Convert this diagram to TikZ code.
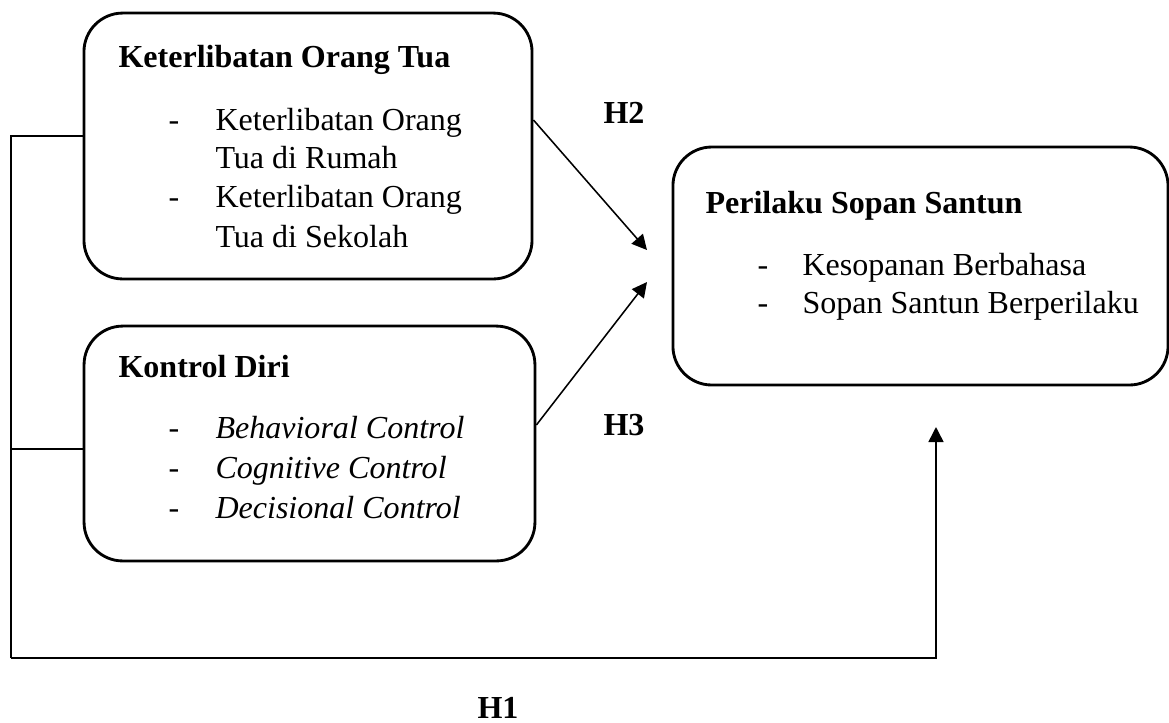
\documentclass[12pt,tikz,border=0pt]{standalone}
\usepackage{fontspec}
\setmainfont{Liberation Serif}
\usetikzlibrary{arrows.meta}
\usetikzlibrary{calc}

\newcommand{\diafont}{\fontsize{12.4}{15}\selectfont}

\begin{document}
\begin{tikzpicture}[x=0.387pt, y=-0.387pt,
        box/.style={draw, line width=1.1pt, rounded corners=15pt, inner sep=0pt},
        title/.style={anchor=base west, inner sep=0pt, font=\diafont\bfseries},
        item/.style={anchor=base west, inner sep=0pt, font=\diafont},
        link/.style={line width=0.6pt},
        arr/.style={line width=0.6pt, -{Triangle[length=5.8pt, width=5.8pt]}}]
        \useasboundingbox (0,0) rectangle (1169,722);

        % boxes
        \node[box, minimum width=173.4pt, minimum height=102.9pt] (ket) at (308,146) {};
        \node[box, minimum width=174.5pt, minimum height=90.9pt] (kon) at (309.5,443.5) {};
        \node[box, minimum width=191.6pt, minimum height=92.1pt] (pss) at (920.5,266) {};

        % Keterlibatan Orang Tua
        \node[title] (kettitle) at (118,67) {Keterlibatan Orang Tua};
        \node[item] (ketdasha) at (168,130) {-};
        \node[item] (ketitema) at (215,130) {Keterlibatan Orang};
        \node[item] (ketitemaa) at (215,168) {Tua di Rumah};
        \node[item] (ketdashb) at (168,207) {-};
        \node[item] (ketitemb) at (215,207) {Keterlibatan Orang};
        \node[item] (ketitembb) at (215,247) {Tua di Sekolah};

        % Kontrol Diri
        \node[title] (kontitle) at (118,377) {Kontrol Diri};
        \node[item] (kondasha) at (168,438) {-};
        \node[item] (konitema) at (215,438) {\textit{Behavioral Control}};
        \node[item] (kondashb) at (168,478) {-};
        \node[item] (konitemb) at (215,478) {\textit{Cognitive Control}};
        \node[item] (kondashc) at (168,518) {-};
        \node[item] (konitemc) at (215,518) {\textit{Decisional Control}};

        % Perilaku Sopan Santun
        \node[title] (psstitle) at (705,213) {Perilaku Sopan Santun};
        \node[item] (pssdasha) at (757,275) {-};
        \node[item] (pssitema) at (802,275) {Kesopanan Berbahasa};
        \node[item] (pssdashb) at (757,313) {-};
        \node[item] (pssitemb) at (802,313) {Sopan Santun Berperilaku};

        % hypotheses
        \node[title] (htwo) at (603,123) {H2};
        \node[title] (hthree) at (603,435) {H3};
        \node[title] (hone) at (477,718) {H1};

        \coordinate (bustop) at (11,136);
        \coordinate (busmid) at (11,449);
        \coordinate (busbot) at (11,658);
        \coordinate (h1tip) at (936,427);
        \coordinate (h2tip) at (647,250);
        \coordinate (h3tip) at (647,282);

        \draw[link] ($(ket.west)+(0,-10)$) -- (bustop) -- (busbot);
        \draw[link] ($(kon.west)+(0,5.5)$) -- (busmid);
        \draw[arr] (busbot) -| (h1tip);
        \draw[arr] ($(ket.east)+(0,-26)$) -- (h2tip);
        \draw[arr] ($(kon.east)+(0,-18.5)$) -- (h3tip);
\end{tikzpicture}
\end{document}
